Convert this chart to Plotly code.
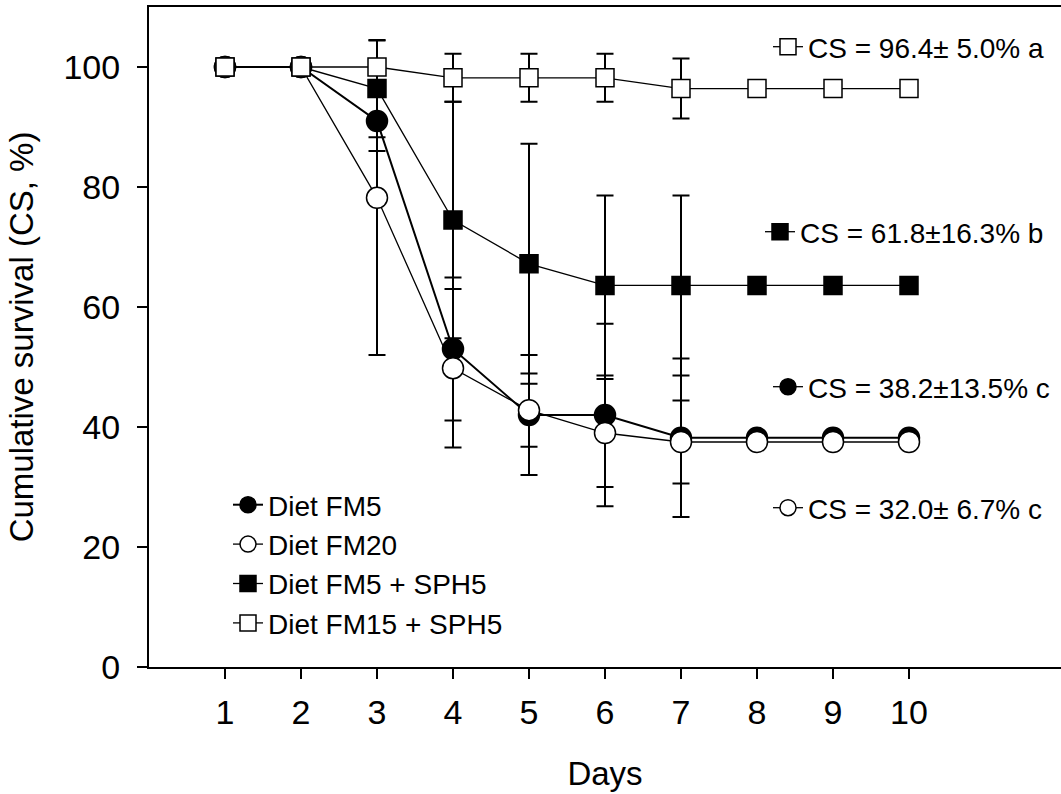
import plotly.graph_objects as go

days = [1, 2, 3, 4, 5, 6, 7, 8, 9, 10]

fm5 = [100, 100, 91.0, 53.0, 42.0, 42.0, 38.2, 38.2, 38.2, 38.2]
fm5_err = [None, None, 5.0, 11.9, 10.0, 15.2, 13.2, None, None, None]

fm20 = [100, 100, 78.2, 49.8, 42.8, 39.0, 37.5, 37.5, 37.5, 37.5]
fm20_err = [None, None, 26.2, 13.2, 6.1, 9.0, 6.9, None, None, None]

fm5_sph5 = [100, 100, 96.4, 74.5, 67.2, 63.6, 63.6, 63.6, 63.6, 63.6]
fm5_sph5_err = [None, None, 8.1, 19.7, 20.0, 15.0, 15.0, None, None, None]

fm15_sph5 = [100, 100, 100, 98.2, 98.2, 98.2, 96.4, 96.4, 96.4, 96.4]
fm15_sph5_err = [None, None, None, 4.0, 4.0, 4.0, 5.0, None, None, None]

names = ["Diet FM5", "Diet FM20", "Diet FM5 + SPH5", "Diet FM15 + SPH5"]
cs_labels = ["CS = 38.2\u00b113.5% c", "CS = 32.0\u00b1 6.7% c",
             "CS = 61.8\u00b116.3% b", "CS = 96.4\u00b1 5.0% a"]

FONT = "Liberation Sans, Arial, sans-serif"

styles = [
    dict(symbol="circle", size=21, color="black", lw=2.0),
    dict(symbol="circle", size=21, color="white", lw=1.3),
    dict(symbol="square", size=18, color="black", lw=1.3),
    dict(symbol="square", size=18, color="white", lw=1.3),
]

series = [(fm5, fm5_err), (fm20, fm20_err), (fm5_sph5, fm5_sph5_err), (fm15_sph5, fm15_sph5_err)]

fig = go.Figure()

for i, ((vals, errs), name, st) in enumerate(zip(series, names, styles)):
    fig.add_trace(go.Scatter(
        x=days, y=vals, name=name, mode="lines+markers",
        line=dict(color="black", width=st["lw"]),
        marker=dict(symbol=st["symbol"], size=st["size"], color=st["color"],
                    line=dict(color="black", width=1.5)),
        error_y=dict(type="data", array=errs, symmetric=True, color="black",
                     thickness=2, width=8.5),
        legendrank=i + 1, legend="legend",
    ))

# right-side CS keys (one legend each)
for k in range(4):
    st = styles[k]
    fig.add_trace(go.Scatter(
        x=[None], y=[None], name=cs_labels[k], mode="lines+markers",
        line=dict(color="black", width=1.3),
        marker=dict(symbol=st["symbol"], size=st["size"], color=st["color"],
                    line=dict(color="black", width=1.5)),
        legend=f"legend{k + 2}", showlegend=True,
    ))

L, T, B = 149, 7, 127
W, H = 1061, 794
PW, PH = W - L, H - T - B

def px(x):
    return (x - L) / PW

def py(y):
    return (H - B - y) / PH

legend_common = dict(bgcolor="rgba(0,0,0,0)", borderwidth=0,
                     font=dict(family=FONT, size=28, color="black"),
                     xanchor="left", yanchor="middle")

fig.update_layout(
    width=W, height=H,
    margin=dict(l=L, r=0, t=T, b=B),
    paper_bgcolor="white", plot_bgcolor="white",
    font=dict(family=FONT, color="black"),
    legend=dict(x=px(228), y=py(564), tracegroupgap=0, **legend_common),
    legend2=dict(x=px(768), y=py(387), **legend_common),
    legend3=dict(x=px(768), y=py(508), **legend_common),
    legend4=dict(x=px(760), y=py(232), **legend_common),
    legend5=dict(x=px(768), y=py(47), **legend_common),
    xaxis=dict(range=[0, 12], tickvals=days, ticktext=[str(d) for d in days],
               showline=True, linecolor="black", linewidth=2, mirror=True,
               ticks="outside", ticklen=10, tickwidth=2, tickcolor="black",
               ticklabelstandoff=4,
               showgrid=False, zeroline=False,
               tickfont=dict(family=FONT, size=34, color="black"),
               title=dict(text="Days", font=dict(family=FONT, size=33, color="black"),
                          standoff=32)),
    yaxis=dict(range=[0, 110], tickvals=[0, 20, 40, 60, 80, 100],
               showline=True, linecolor="black", linewidth=2, mirror=False,
               ticks="outside", ticklen=10, tickwidth=2, tickcolor="black",
               ticklabelstandoff=10,
               showgrid=False, zeroline=False,
               tickfont=dict(family=FONT, size=34, color="black"),
               title=dict(text="Cumulative survival (CS, %)",
                          font=dict(family=FONT, size=33, color="black"),
                          standoff=20)),
)

fig.write_html("out.html", config={"displayModeBar": False},
               post_script="document.body.style.margin='0px';")
